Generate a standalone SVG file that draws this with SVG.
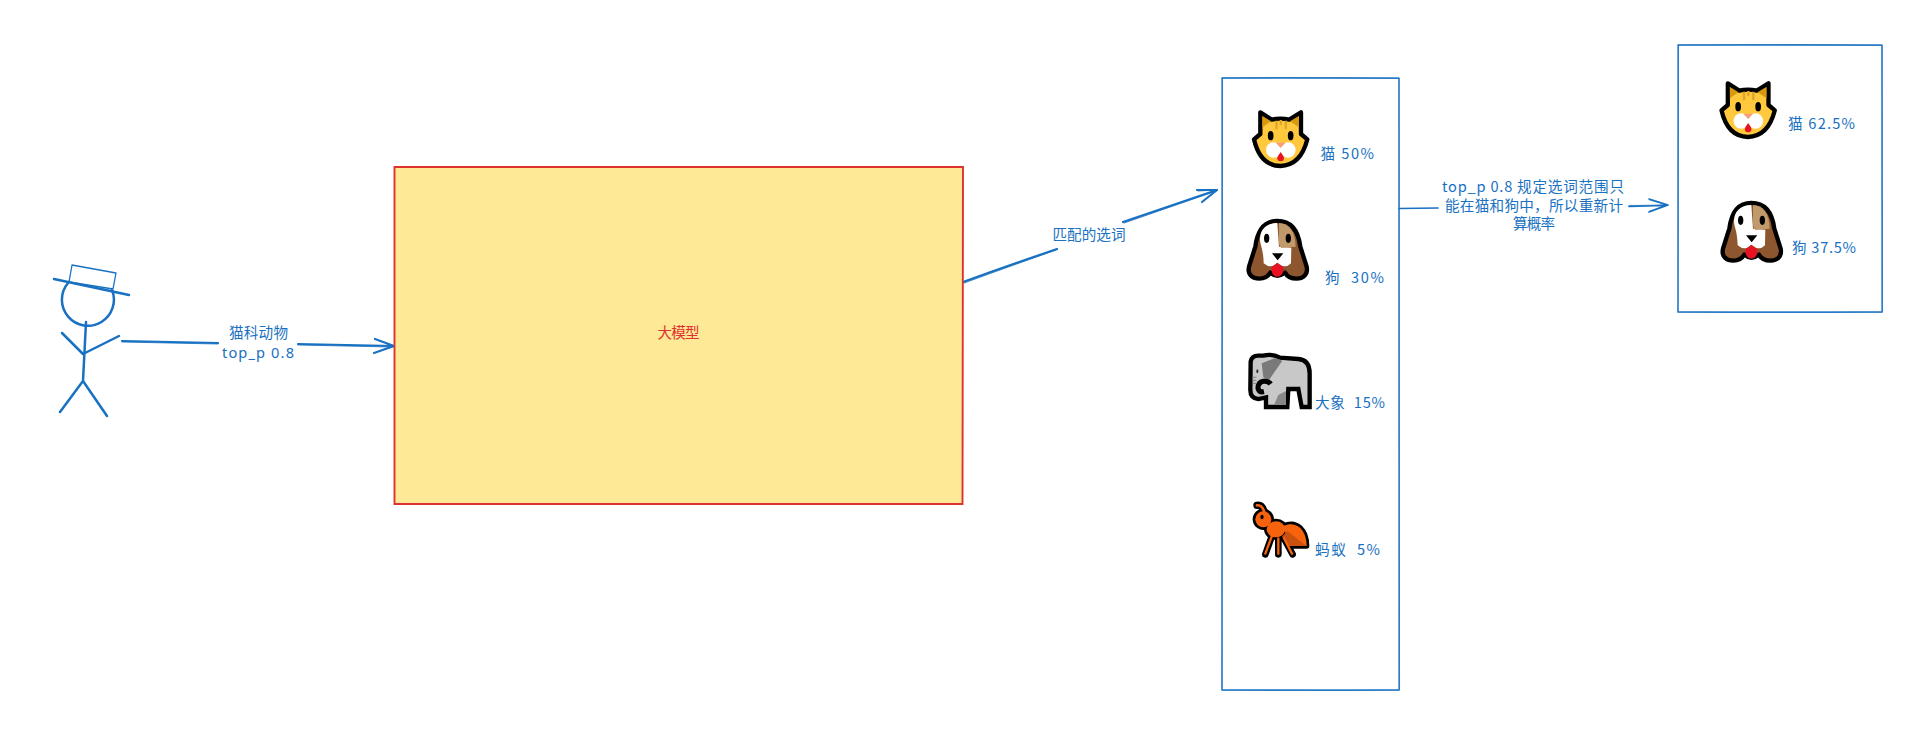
<svg xmlns="http://www.w3.org/2000/svg" width="1907" height="736" viewBox="0 0 1907 736">
<style>
text{font-family:"Noto Sans","Noto Sans CJK SC","DejaVu Sans",sans-serif;font-size:14.6px;fill:#1971c2}
.c{font-family:"Noto Sans CJK SC","Noto Sans",sans-serif}
.m{text-anchor:middle}
.ln{fill:none;stroke:#1971c2;stroke-linecap:round;stroke-linejoin:round}
.a{stroke-width:2.2}
.a2{stroke-width:1.1;opacity:.8}
.a3{stroke-width:1.7}
.b{stroke-width:1.3;opacity:.9}
.p{stroke-width:2.5}
</style>
<defs>
<g id="cat">
<path d="M181 127L215 149Q241 143 268 149L303 127L303 192L322 208Q302 287 241 288Q180 287 162 208L181 192Z" fill="#ffc83d" stroke="#000" stroke-width="13" stroke-linejoin="round"/>
<path d="M187 138L187 172L213 154ZM297 138L297 172L270 154Z" fill="#d79a0f"/>
<path d="M226 152h7v26h-7zM239 150h7v15h-7zM254 152h7v26h-7z" fill="#e0a52a"/>
<ellipse cx="212" cy="197" rx="8.500" ry="14"/><ellipse cx="272" cy="197" rx="8.500" ry="14"/>
<circle cx="221" cy="240" r="23" fill="#fff"/><circle cx="264" cy="240" r="23" fill="#fff"/>
<path d="M227 218L257 218L242 234Z" fill="#f7a17a"/>
<path d="M242 246Q233 258 232 264A10 10 0 0 0 252 264Q251 258 242 246Z" fill="#e81224"/>
</g>
<g id="dog">
<path d="M232 453C190 453 172 485 166 530L147 590C141 616 160 626 178 626C195 626 205 618 211 608Q232 626 255 608C261 619 275 626 290 626C308 626 325 615 320 590L301 530C295 485 276 453 232 453Z" fill="#8e562e" stroke="#000" stroke-width="13" stroke-linejoin="round"/>
<path d="M232 459C198 459 180 480 180 508C180 525 190 535 191 580Q205 592 218 588L232 578L247 588Q262 592 273 580L274 533L237 530Z" fill="#fff"/>
<path d="M237 459C268 459 286 485 287 530L245 534Q238 530 237 515Z" fill="#c19a6b"/>
<ellipse cx="200" cy="505" rx="8" ry="14"/><ellipse cx="265" cy="505" rx="8" ry="14"/>
<path d="M216 550L250 550L233 571Z"/>
<path d="M232 578Q226 588 215 590C212 610 222 620 232 620C242 620 253 610 250 590Q238 588 232 578Z" fill="#e81224"/>
</g>
</defs>
<rect width="1907" height="736" fill="#fff"/>

<g id="connectors">
<path class="ln a" d="M122 341Q170 342 218 343M298 344Q346 345 394 346M375 339L394 346L374 353"/>
<path class="ln a2" d="M122 342Q170 343 218 344M298 345Q346 346 393 347"/>
<path class="ln a" d="M963 282Q1010 265 1057 249M1123 222Q1170 206 1217 190M1197 190L1217 190L1202 202"/>
<path class="ln a2" d="M964 283Q1010 266 1056 250M1124 223Q1170 207 1216 191M1198 191L1216 190"/>
<path class="ln a3" d="M1399 208.500Q1418 208 1438 208M1629 206.500Q1648 206 1668 205M1649 199L1668 205L1649 212"/>
<path class="ln a2" d="M1629 205.500Q1648 205 1667 205M1650 200L1667 205L1650 211"/>
<text class="c m" x="258.500" y="338" textLength="59">猫科动物</text>
<text class="m" x="258" y="358" textLength="72">top_p 0.8</text>
<text class="c m" x="1089" y="240" textLength="73">匹配的选词</text>
<text class="c m" x="1533" y="192" textLength="182">top_p 0.8 规定选词范围只</text>
<text class="c m" x="1534" y="211" textLength="178">能在猫和狗中，所以重新计</text>
<text class="c m" x="1534" y="229" textLength="42">算概率</text>
</g>

<g id="person">
<path class="ln p" d="M68 283A26 26 0 1 0 112 290"/>
<path class="ln p" d="M54 279L129 295"/>
<path class="ln" stroke-width="1.3" d="M72 265L116 273L113 289L69 282Z"/>
<path class="ln p" d="M86 322L83 381M62 333L83 354L119 336M83 381L60 412M83 381L107 416"/>
</g>

<g id="model">
<path d="M394.500 166.500L963 166.500L963 504L394.500 504Z" fill="#fee996"/>
<path d="M394.500 167Q680 166 963 167L962.500 504Q680 505 394.500 504Z" fill="none" stroke="#e03131" stroke-width="1.900"/>
<text class="c m" x="678.500" y="338" style="fill:#e03131" textLength="42">大模型</text>
</g>

<g id="options">
<path class="ln b" d="M1222 78L1399 78L1399 690L1222 690Z"/>
<path class="ln a2" d="M1222 78Q1310 77 1399 78.500L1399.500 690Q1310 691 1222 690L1222.500 78"/>
<g id="opt-cat"><use href="#cat" transform="translate(1200 70) scale(.3333)"/>
<text class="c" x="1320.500" y="159" textLength="53.500">猫 50%</text></g>
<g id="opt-dog"><use href="#dog" transform="translate(1200 70) scale(.3333)"/>
<text class="c" x="1325" y="283" textLength="59" xml:space="preserve">狗  30%</text></g>
<g id="opt-elephant">
<g transform="translate(1200 320) scale(.3333)">
<path d="M152 125Q155 107 175 107L190 107Q215 100 240 113L295 117Q329 120 329 160L329 261L305 261L295 207L265 207L262 261L198 261L198 232L175 237Q151 235 151 210Z" fill="#c8c8c8" stroke="#000" stroke-width="13" stroke-linejoin="miter"/>
<path d="M185 130L225 114L247 122L205 183L190 172Z" fill="#7a7a7a"/>
<path d="M222 255L235 225L258 213L258 255Z" fill="#888"/>
<path d="M212 192Q205 182 190 184Q174 187 174 205Q177 218 192 215" fill="none" stroke="#000" stroke-width="15"/>
<path d="M157 172h12M157 181h12M157 190h12" stroke="#777" stroke-width="2.500"/>
<ellipse cx="172" cy="154" rx="3" ry="6" fill="#333"/>
</g>
<text class="c" x="1315" y="408" textLength="70" xml:space="preserve">大象  15%</text></g>
<g id="opt-ant">
<g transform="translate(1200 320) scale(.3333)">
<g fill="#000" stroke="#000" stroke-width="16" stroke-linejoin="round" stroke-linecap="round">
<path d="M171 556Q188 554 194 580" fill="none" stroke-width="22"/>
<ellipse cx="190" cy="598" rx="24" ry="24"/>
<ellipse cx="228" cy="628" rx="28" ry="24"/>
<path d="M250 618C292 600 320 632 320 678L268 678Z"/>
<path d="M215 650L196 703M235 655L235 703M252 655L278 703" fill="none" stroke-width="20"/>
</g>
<path d="M171 556Q188 554 194 580" fill="none" stroke="#f7630c" stroke-width="8" stroke-linecap="round"/>
<ellipse cx="190" cy="598" rx="24" ry="24" fill="#f7630c"/>
<ellipse cx="228" cy="628" rx="28" ry="24" fill="#f7630c"/>
<path d="M250 618C292 600 320 632 320 678L268 678Z" fill="#f7630c"/>
<path d="M262 634L320 678L268 678L246 650Z" fill="#ca5010"/>
<path d="M215 650L196 701M235 655L235 701M252 655L276 701" fill="none" stroke="#f7630c" stroke-width="7" stroke-linecap="round"/>
<ellipse cx="186" cy="591" rx="5" ry="7"/>
</g>
<text class="c" x="1315" y="555" textLength="65" xml:space="preserve">蚂蚁  5%</text></g>
</g>

<g id="result">
<path class="ln b" d="M1678 45L1882 45L1882 312L1678 312Z"/>
<path class="ln a2" d="M1678 45Q1780 44 1882 45.500L1882.500 312Q1780 313 1678 312L1678.500 45"/>
<g id="res-cat"><use href="#cat" transform="translate(1667.500 41) scale(.3333)"/>
<text class="c" x="1788" y="129" textLength="67">猫 62.5%</text></g>
<g id="res-dog"><use href="#dog" transform="translate(1674 52) scale(.3333)"/>
<text class="c" x="1792" y="253" textLength="64">狗 37.5%</text></g>
</g>
</svg>
